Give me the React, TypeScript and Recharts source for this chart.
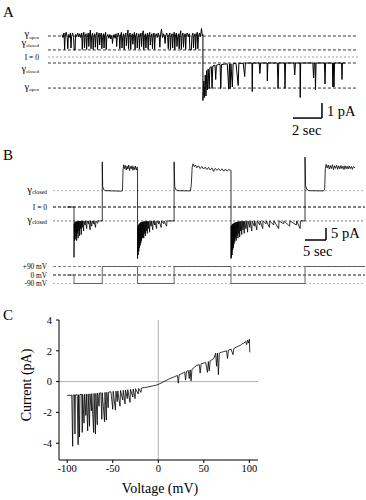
import { LineChart, Line, XAxis, YAxis, ReferenceLine } from "recharts";

const FONT = '"Liberation Serif", "Times New Roman", serif';

// ---- Panel A: single channel current (pA) vs time (s)
const levelsA = [1.4, 0.47, 0, -0.4, -2.07];
const levelNamesA = ["open", "closed", "I = 0", "closed", "open"];
const traceA: [number, number][] = [
  [0, 1.5], [0.07, 1.3], [0.14, 1.6], [0.18, 0.5], [0.22, 1.4], [0.29, 1.65], [0.36, 1.3], [0.4, 0.55],
  [0.44, 1.5], [0.51, 1.3], [0.58, 1.6], [0.62, 0.6], [0.66, 1.35], [0.73, 1.6], [0.8, 1.3], [0.84, 0.47],
  [0.9, 0.47], [0.94, 1.5], [1.01, 1.35], [1.08, 1.6], [1.15, 1.35], [1.22, 1.55], [1.29, 1.3], [1.36, 1.6],
  [1.4, 0.5], [1.44, 1.4], [1.51, 1.65], [1.55, 0.6], [1.59, 1.35], [1.66, 1.55], [1.7, 0.5], [1.74, 1.3],
  [1.81, 1.6], [1.85, 0.7], [1.89, 1.4], [1.96, 1.8], [2.0, 0.55], [2.04, 1.35], [2.11, 1.6], [2.15, 0.5],
  [2.19, 1.3], [2.26, 1.55], [2.3, 0.65], [2.34, 1.4], [2.41, 1.65], [2.45, 0.5], [2.49, 1.3], [2.56, 1.6],
  [2.6, 0.8], [2.64, 1.35], [2.71, 1.6], [2.75, 0.55], [2.79, 1.3], [2.86, 1.55], [2.9, 0.6], [2.94, 1.4],
  [3.01, 1.65], [3.05, 0.5], [3.09, 1.35], [3.16, 1.5], [3.23, 1.25], [3.3, 1.5], [3.37, 1.2], [3.44, 1.45],
  [3.48, 0.9], [3.52, 1.25], [3.59, 1.5], [3.66, 1.25], [3.73, 1.55], [3.77, 0.7], [3.81, 1.3], [3.88, 1.6],
  [3.95, 1.35], [3.99, 0.55], [4.03, 1.4], [4.1, 1.65], [4.14, 0.6], [4.18, 1.3], [4.25, 1.55], [4.29, 0.5],
  [4.33, 1.35], [4.4, 1.6], [4.44, 0.75], [4.48, 1.3], [4.55, 1.8], [4.59, 0.55], [4.63, 1.4], [4.7, 1.6],
  [4.74, 0.5], [4.78, 1.3], [4.85, 1.55], [4.89, 0.85], [4.93, 1.35], [5.0, 1.65], [5.04, 0.5], [5.08, 1.4],
  [5.15, 1.6], [5.19, 0.6], [5.23, 1.3], [5.3, 1.55], [5.34, 0.55], [5.38, 1.35], [5.45, 1.6], [5.49, 0.7],
  [5.53, 1.4], [5.6, 1.75], [5.64, 0.5], [5.68, 1.3], [5.75, 1.55], [5.79, 0.6], [5.83, 1.35], [5.9, 1.6],
  [5.94, 0.5], [5.98, 1.4], [6.05, 1.65], [6.09, 0.8], [6.13, 1.3], [6.2, 1.55], [6.24, 0.55], [6.28, 1.4],
  [6.35, 1.6], [6.39, 0.5], [6.43, 1.35], [6.5, 1.55], [6.57, 1.3], [6.64, 1.6], [6.71, 1.35], [6.75, 0.65],
  [6.79, 1.4], [6.86, 1.85], [6.93, 1.3], [7.0, 1.55], [7.07, 1.35], [7.11, 0.9], [7.15, 1.4], [7.22, 1.6],
  [7.29, 1.3], [7.33, 0.55], [7.37, 1.45], [7.44, 1.6], [7.48, 0.5], [7.52, 1.3], [7.59, 1.55], [7.63, 0.6],
  [7.67, 1.35], [7.74, 1.65], [7.78, 0.5], [7.82, 1.4], [7.89, 1.6], [7.93, 0.7], [7.97, 1.3], [8.04, 1.55],
  [8.08, 0.55], [8.12, 1.4], [8.19, 1.75], [8.23, 0.5], [8.27, 1.35], [8.34, 1.6], [8.38, 0.65], [8.42, 1.3],
  [8.49, 1.55], [8.53, 0.5], [8.57, 1.4], [8.64, 1.6], [8.71, 1.35], [8.78, 1.55], [8.82, 0.47], [8.92, 0.47],
  [8.96, 1.4], [9.03, 1.6], [9.07, 0.6], [9.11, 1.35], [9.18, 1.55], [9.22, 0.5], [9.26, 1.4], [9.33, 1.65],
  [9.37, 0.55], [9.41, 1.3], [9.48, 1.6], [9.55, 1.35], [9.62, 1.9], [9.68, 1.4], [9.72, 1.5],
  [9.72, -2.9], [9.78, -1.6], [9.83, -2.7], [9.88, -1.2], [9.93, -2.6], [9.98, -0.9], [10.03, -2.2],
  [10.08, -0.8], [10.15, -2.1], [10.2, -0.7], [10.3, -0.65], [10.35, -2.1], [10.4, -0.6], [10.55, -0.55],
  [10.6, -1.5], [10.65, -0.55], [10.8, -0.5], [10.9, -0.5], [10.95, -2.1], [11.0, -0.5], [11.2, -0.48],
  [11.4, -0.45], [11.5, -2.15], [11.55, -0.45], [11.6, -2.1], [11.65, -0.45], [11.75, -2.0], [11.8, -0.45],
  [12.0, -0.42], [12.15, -1.9], [12.2, -0.42], [12.5, -0.42], [12.6, -1.3], [12.65, -0.4], [13.1, -0.4],
  [13.12, -2.3], [13.15, -0.4], [13.6, -0.4], [13.65, -1.1], [13.7, -0.4], [14.14, -0.4], [14.16, -1.6],
  [14.2, -0.4], [14.85, -0.4], [14.9, -2.1], [14.95, -0.4], [15.35, -0.4], [15.38, -2.1], [15.42, -0.4],
  [16.0, -0.4], [16.05, -1.2], [16.1, -0.4], [16.41, -0.4], [16.43, -2.7], [16.46, -0.4], [17.3, -0.4],
  [17.35, -1.4], [17.4, -0.4], [17.45, -0.4], [17.48, -2.2], [17.52, -0.4], [18.1, -0.4], [18.14, -1.8],
  [18.18, -0.4], [18.65, -0.4], [18.68, -2.0], [18.71, -0.4], [18.76, -2.0], [18.8, -0.4], [19.28, -0.4],
  [19.31, -1.5], [19.34, -0.4], [19.52, -0.4],
];
const scaleBarA = { t: [15.93, 17.93], i: [-3.07, -4.07] };

// ---- Panel B: current (pA) and voltage steps (mV) vs time (s)
const levelsB = [6.8, 0, -5.8];
const levelNamesB = ["closed", "I = 0", "closed"];
const voltLevelsB = [90, 0, -90];
const voltNamesB = ["+90 mV", "0 mV", "-90 mV"];
const traceB: [number, number][] = [
  [0, 0], [1.67, 0],
  [1.67, -21], [1.72, -7], [1.8, -14], [1.88, -6.3], [1.96, -13.5], [2.04, -6.2], [2.12, -12], [2.2, -6],
  [2.3, -14], [2.38, -6], [2.47, -11], [2.55, -6], [2.65, -13], [2.73, -5.9], [2.83, -10], [2.9, -5.9],
  [3.0, -12], [3.08, -5.9], [3.2, -9], [3.28, -5.9], [3.4, -11.5], [3.48, -5.8], [3.65, -8.5], [3.73, -5.8],
  [3.95, -10], [4.03, -5.8], [4.3, -7.5], [4.38, -5.8], [4.7, -9], [4.78, -5.8], [5.1, -7], [5.18, -5.8],
  [5.5, -9.5], [5.58, -5.8], [5.9, -8], [5.98, -5.8], [6.3, -7], [6.38, -5.8], [6.8, -8.5], [6.88, -5.8],
  [7.3, -6.8], [7.38, -5.8], [8.4, -5.8],
  [8.4, 18.8], [8.5, 8.5], [8.75, 7.2], [9.2, 6.8], [12.9, 6.6], [13.2, 6.8], [13.35, 15.5], [13.5, 17.6],
  [13.7, 16], [13.9, 17.3], [14.1, 15.4], [14.3, 17], [14.5, 15.8], [14.7, 17.5], [14.9, 15.2], [15.1, 16.9],
  [15.3, 15.9], [15.5, 17.2], [15.7, 15.3], [15.9, 16.8], [16.1, 15.6], [16.3, 17.1], [16.5, 15.4],
  [16.7, 16.6], [16.8, 16],
  [16.8, -21.5], [16.86, -8], [16.94, -20], [17.02, -7.5], [17.1, -18.5], [17.18, -7], [17.26, -17],
  [17.34, -6.8], [17.42, -16], [17.5, -6.5], [17.58, -15], [17.66, -6.4], [17.75, -14], [17.83, -6.3],
  [17.92, -13], [18.0, -6.2], [18.1, -12.5], [18.18, -6.1], [18.28, -13], [18.36, -6], [18.47, -11],
  [18.55, -6], [18.67, -12], [18.75, -6], [18.87, -10], [18.95, -5.9], [19.12, -11], [19.2, -5.9],
  [19.37, -9], [19.45, -5.9], [19.67, -10.5], [19.75, -5.9], [20.02, -8], [20.1, -5.8], [20.42, -9.5],
  [20.5, -5.8], [20.82, -7.5], [20.9, -5.8], [21.32, -9], [21.4, -5.8], [21.82, -7], [21.9, -5.8],
  [22.42, -8.5], [22.5, -5.8], [23.02, -7], [23.1, -5.8], [23.72, -8], [23.8, -5.8], [25.5, -5.8],
  [25.5, 18.8], [25.65, 8.5], [25.9, 7.2], [26.4, 6.8], [29.4, 6.7], [29.6, 9.5], [29.8, 16.5], [30.0, 18],
  [30.3, 16.8], [30.6, 17.5], [30.9, 16.3], [31.3, 17.2], [31.7, 16], [32.1, 16.9], [32.5, 15.8],
  [32.9, 16.6], [33.3, 15.6], [33.7, 16.5], [34.1, 15.4], [34.5, 16.3], [34.9, 14.8], [35.3, 16.1],
  [35.7, 15.3], [36.1, 16], [36.5, 15.1], [36.9, 15.9], [37.3, 14.9], [37.7, 15.8], [38.1, 15],
  [38.5, 15.6], [39.05, 15.2],
  [39.05, -21.5], [39.1, -8], [39.17, -21], [39.24, -7.5], [39.31, -20], [39.38, -7.2], [39.46, -18],
  [39.54, -7], [39.62, -17], [39.7, -6.8], [39.78, -15.5], [39.86, -6.6], [39.95, -14.5], [40.03, -6.5],
  [40.12, -13], [40.2, -6.4], [40.3, -14], [40.38, -6.3], [40.5, -12], [40.58, -6.2], [40.7, -13],
  [40.78, -6.1], [40.9, -11], [40.98, -6], [41.12, -12.5], [41.2, -6], [41.35, -10], [41.43, -6],
  [41.6, -11.5], [41.68, -5.9], [41.9, -9.5], [41.98, -5.9], [42.2, -11], [42.28, -5.9], [42.6, -9],
  [42.68, -5.9], [43.0, -10.5], [43.08, -5.8], [43.5, -8.5], [43.58, -5.8], [44.0, -10], [44.08, -5.8],
  [44.6, -8], [44.68, -5.8], [45.2, -9.5], [45.28, -5.8], [45.9, -7.5], [45.98, -5.8], [46.6, -9],
  [46.68, -5.8], [47.4, -7], [47.48, -5.8], [48.2, -8.5], [48.28, -5.8], [49.2, -7.5], [49.28, -5.8],
  [50.4, -9], [50.48, -5.8], [51.6, -7], [51.68, -5.8], [53.0, -8], [53.08, -5.8], [54.6, -7.5],
  [54.68, -5.8], [55.5, -9], [55.58, -5.8], [56.67, -5.8],
  [56.67, 20.8], [56.8, 9], [57.1, 7.3], [57.6, 6.8], [61.1, 6.7], [61.35, 7.5], [61.5, 16], [61.7, 17.8],
  [61.95, 16.2], [62.2, 17.5], [62.45, 15.8], [62.7, 17.3], [62.95, 16], [63.2, 17.6], [63.45, 15.6],
  [63.7, 17.2], [63.95, 16.1], [64.2, 17.4], [64.45, 15.7], [64.7, 17.1], [64.95, 15.9], [65.2, 17.3],
  [65.45, 16], [65.7, 17], [65.95, 15.6], [66.2, 17.2], [66.45, 15.9], [66.7, 17], [66.95, 15.8],
  [67.2, 17.1], [67.45, 16], [67.7, 16.9], [67.95, 15.7], [68.2, 16.8], [68.57, 16.3],
];
const voltageB: [number, number][] = [
  [0, 0], [1.67, 0], [1.67, -90], [8.4, -90], [8.4, 90], [16.8, 90], [16.8, -90], [25.5, -90],
  [25.5, 90], [39.05, 90], [39.05, -90], [56.67, -90], [56.67, 90], [70.9, 90],
];
const scaleBarB = { t: [56.67, 61.67], i: [-8.75, -13.75] };

// ---- Panel C: I-V relation from a voltage ramp
const voltTicks = [-100, -50, 0, 50, 100];
const currentTicks = [-4, -2, 0, 2, 4];
const ivTrace: [number, number][] = [
  [-100, -0.9], [-98, -0.88], [-96, -0.9], [-95, -0.87], [-94, -4.2], [-93.5, -0.88], [-92, -0.86],
  [-91.5, -3.4], [-91, -0.87], [-89, -0.85], [-88, -4.1], [-87.5, -0.85], [-86.5, -3.6], [-86, -0.84],
  [-84, -0.83], [-83.5, -3.3], [-83, -0.83], [-81.5, -2.7], [-81, -0.82], [-79.5, -2.2], [-79, -0.8],
  [-77.5, -3.2], [-77, -0.8], [-75.5, -2.9], [-75, -0.79], [-73.5, -1.9], [-73, -0.78], [-71, -3.3],
  [-70.5, -0.77], [-69, -3.4], [-68.5, -0.76], [-67, -2.8], [-66.5, -0.75], [-65, -1.6], [-64.5, -0.74],
  [-63, -0.73], [-62, -2.45], [-61.5, -0.72], [-59, -2.6], [-58.5, -0.7], [-57, -2.5], [-56.5, -0.69],
  [-55, -1.7], [-54.5, -0.68], [-52, -0.66], [-50, -1.8], [-49.5, -0.63], [-47, -1.85], [-46.5, -0.62],
  [-45, -1.3], [-44.5, -0.6], [-42, -1.6], [-41.5, -0.58], [-39, -1.2], [-38.5, -0.56], [-36.5, -1.45],
  [-36, -0.54], [-34, -1.1], [-33.5, -0.52], [-31, -1.35], [-30.5, -0.5], [-28, -1.0], [-27.5, -0.48],
  [-25.5, -1.1], [-25, -0.46], [-22, -0.8], [-21.5, -0.44], [-19, -0.7], [-18.5, -0.42], [-15, -0.38],
  [-12, -0.36], [-9, -0.32], [-6, -0.28], [-3, -0.24], [0, -0.18], [3, -0.1], [6, 0.0], [9, 0.08],
  [12, 0.18], [15, 0.25], [18, 0.32], [21, 0.4], [22, -0.1], [23, 0.45], [26, 0.52], [29, 0.62],
  [30, 0.1], [31, 0.66], [33, 0.72], [34, 0.2], [35, 0.76], [36, 0.05], [37, 0.8], [40, 0.95],
  [42, 1.05], [45, 1.1], [46, 0.55], [47, 1.15], [50, 1.2], [52, 1.25], [54, 0.6], [55, 1.3],
  [56, 0.7], [57, 1.35], [61, 1.5], [63, 1.85], [64, 1.0], [65, 1.85], [66, 0.45], [67, 1.85],
  [69, 1.9], [72, 1.95], [75, 2.0], [76, 1.5], [77, 2.05], [80, 2.1], [82, 1.75], [83, 2.15],
  [86, 2.25], [88, 2.3], [90, 2.35], [92, 2.45], [94, 2.5], [96, 2.6], [97, 2.4], [98, 2.7],
  [99, 2.5], [100, 2.75], [100.5, 1.9],
];

const toPts = (arr: [number, number][]) => arr.map(([x, y]) => ({ x, y }));

function GammaLabel({ viewBox, sub, dx, dy, big, small }: any) {
  if (!viewBox) return null;
  const isGamma = sub === "open" || sub === "closed";
  return (
    <text x={viewBox.x - dx} y={viewBox.y + dy} textAnchor="end" fontFamily={FONT} fill="#000">
      {isGamma ? (
        <>
          <tspan fontSize={big}>γ</tspan>
          <tspan fontSize={small} dy={1.5}>{sub}</tspan>
        </>
      ) : (
        <tspan fontSize={7.5}>{sub}</tspan>
      )}
    </text>
  );
}

function PlainLabel({ viewBox, text, dx, dy, size }: any) {
  if (!viewBox) return null;
  return (
    <text x={viewBox.x - dx} y={viewBox.y + dy} textAnchor="end" fontFamily={FONT} fontSize={size} fill="#000">
      {text}
    </text>
  );
}

function BarLabel({ viewBox, text, dx, dy }: any) {
  if (!viewBox) return null;
  return (
    <text x={viewBox.x + dx} y={viewBox.y + dy} fontFamily={FONT} fontSize={14.5} fill="#000">
      {text}
    </text>
  );
}

const dashA = [
  { stroke: "#000", dash: "3 2" },
  { stroke: "#000", dash: "3 2" },
  { stroke: "#888", dash: "2 2" },
  { stroke: "#000", dash: "3 2" },
  { stroke: "#000", dash: "3 2" },
];
const labelDyA = [1, -4, 2.5, 8.5, 1.5];

function PanelA() {
  const [x0, x1] = [-0.97, 20.41];
  return (
    <LineChart width={366} height={140} margin={{ top: 0, right: 0, bottom: 0, left: 0 }}>
      <XAxis type="number" dataKey="x" domain={[-4.276, 20.966]} hide allowDataOverflow />
      <YAxis type="number" domain={[-5.533, 3.8]} hide allowDataOverflow />
      {levelsA.map((lv, k) => (
        <ReferenceLine
          key={k}
          segment={[{ x: x0, y: lv }, { x: x1, y: lv }]}
          stroke={dashA[k].stroke}
          strokeWidth={0.8}
          strokeDasharray={dashA[k].dash}
          label={(p: any) => (
            <GammaLabel viewBox={p.viewBox} sub={levelNamesA[k]} dx={9} dy={labelDyA[k]} big={10.5} small={5} />
          )}
        />
      ))}
      <ReferenceLine
        segment={[{ x: scaleBarA.t[1], y: scaleBarA.i[0] }, { x: scaleBarA.t[1], y: scaleBarA.i[1] }]}
        stroke="#000"
        strokeWidth={1.5}
        label={(p: any) => <BarLabel viewBox={p.viewBox} text="1 pA" dx={5} dy={13} />}
      />
      <ReferenceLine
        segment={[{ x: scaleBarA.t[0], y: scaleBarA.i[1] }, { x: scaleBarA.t[1], y: scaleBarA.i[1] }]}
        stroke="#000"
        strokeWidth={1.5}
        label={(p: any) => <BarLabel viewBox={p.viewBox} text="2 sec" dx={-1} dy={17} />}
      />
      <Line
        data={toPts(traceA)}
        dataKey="y"
        type="linear"
        stroke="#000"
        strokeWidth={1}
        dot={false}
        activeDot={false}
        isAnimationActive={false}
      />
    </LineChart>
  );
}

const dashB = [
  { stroke: "#999", dash: "2 2", w: 0.8 },
  { stroke: "#000", dash: "3 2", w: 1 },
  { stroke: "#555", dash: "2 2", w: 0.8 },
];
const labelDyB = [2, 2.5, 2];
const voltDashB = [
  { stroke: "#444", dash: "3 2", w: 0.7 },
  { stroke: "#000", dash: "3 2", w: 0.9 },
  { stroke: "#999", dash: "2 2", w: 0.7 },
];
const voltDyB = [2.5, 2.5, 2.5];

function PanelB() {
  const [x0, x1] = [-3.33, 70.95];
  return (
    <LineChart width={366} height={160} margin={{ top: 0, right: 0, bottom: 0, left: 0 }}>
      <XAxis type="number" dataKey="x" domain={[-15.952, 71.19]} hide allowDataOverflow />
      <YAxis yAxisId="i" type="number" domain={[-38.75, 27.917]} hide allowDataOverflow />
      <YAxis yAxisId="v" type="number" domain={[-264.7, 1429.4]} hide allowDataOverflow />
      {levelsB.map((lv, k) => (
        <ReferenceLine
          key={"i" + k}
          yAxisId="i"
          segment={[{ x: x0, y: lv }, { x: x1, y: lv }]}
          stroke={dashB[k].stroke}
          strokeWidth={dashB[k].w}
          strokeDasharray={dashB[k].dash}
          label={(p: any) => (
            <GammaLabel viewBox={p.viewBox} sub={levelNamesB[k]} dx={6} dy={labelDyB[k]} big={11} small={5.8} />
          )}
        />
      ))}
      {voltLevelsB.map((lv, k) => (
        <ReferenceLine
          key={"v" + k}
          yAxisId="v"
          segment={[{ x: x0, y: lv }, { x: x1, y: lv }]}
          stroke={voltDashB[k].stroke}
          strokeWidth={voltDashB[k].w}
          strokeDasharray={voltDashB[k].dash}
          label={(p: any) => (
            <PlainLabel viewBox={p.viewBox} text={voltNamesB[k]} dx={6} dy={voltDyB[k]} size={7.3} />
          )}
        />
      ))}
      <ReferenceLine
        yAxisId="i"
        segment={[{ x: scaleBarB.t[1], y: scaleBarB.i[0] }, { x: scaleBarB.t[1], y: scaleBarB.i[1] }]}
        stroke="#000"
        strokeWidth={1.5}
        label={(p: any) => <BarLabel viewBox={p.viewBox} text="5 pA" dx={5} dy={10} />}
      />
      <ReferenceLine
        yAxisId="i"
        segment={[{ x: scaleBarB.t[0], y: scaleBarB.i[1] }, { x: scaleBarB.t[1], y: scaleBarB.i[1] }]}
        stroke="#000"
        strokeWidth={1.5}
        label={(p: any) => <BarLabel viewBox={p.viewBox} text="5 sec" dx={-2} dy={16} />}
      />
      <Line
        yAxisId="v"
        data={toPts(voltageB)}
        dataKey="y"
        type="linear"
        stroke="#555"
        strokeWidth={0.9}
        dot={false}
        activeDot={false}
        isAnimationActive={false}
      />
      <Line
        yAxisId="i"
        data={toPts(traceB)}
        dataKey="y"
        type="linear"
        stroke="#000"
        strokeWidth={0.8}
        dot={false}
        activeDot={false}
        isAnimationActive={false}
      />
    </LineChart>
  );
}

function PanelC() {
  const tick = { fontSize: 10.5, fill: "#000", fontFamily: FONT };
  return (
    <LineChart width={366} height={200} margin={{ top: 20, right: 108, bottom: 0, left: 0 }}>
      <XAxis
        type="number"
        dataKey="x"
        domain={[-109, 109.5]}
        ticks={voltTicks}
        interval={0}
        allowDataOverflow
        height={40}
        tick={tick}
        tickSize={3}
        tickMargin={2}
        axisLine={{ stroke: "#000" }}
        tickLine={{ stroke: "#000" }}
      />
      <YAxis
        type="number"
        domain={[-5.09, 4]}
        ticks={currentTicks}
        interval={0}
        allowDataOverflow
        width={59}
        tick={tick}
        tickSize={3}
        tickMargin={4}
        axisLine={{ stroke: "#000" }}
        tickLine={{ stroke: "#000" }}
      />
      <ReferenceLine y={0} stroke="#999" strokeWidth={0.8} />
      <ReferenceLine x={0} stroke="#999" strokeWidth={0.8} />
      <Line
        data={toPts(ivTrace)}
        dataKey="y"
        type="linear"
        stroke="#000"
        strokeWidth={0.8}
        dot={false}
        activeDot={false}
        isAnimationActive={false}
      />
    </LineChart>
  );
}

export default function App() {
  return (
    <div style={{ position: "absolute", left: 0, top: 0, width: 366, height: 500, background: "#fff", fontFamily: FONT }}>
      <div style={{ position: "absolute", left: 0, top: 0 }}>
        <PanelA />
      </div>
      <div style={{ position: "absolute", left: 0, top: 140 }}>
        <PanelB />
      </div>
      <div style={{ position: "absolute", left: 0, top: 300 }}>
        <PanelC />
      </div>
      <svg width={366} height={500} style={{ position: "absolute", left: 0, top: 0, pointerEvents: "none" }}>
        <g fontFamily={FONT} fill="#000">
          <text x={3} y={17} fontSize={15}>A</text>
          <text x={3} y={160} fontSize={15}>B</text>
          <text x={3} y={320} fontSize={15}>C</text>
          <text x={31} y={385} fontSize={14} textAnchor="middle" transform="rotate(-90 31 385)">Current (pA)</text>
          <text x={160} y={493} fontSize={14} textAnchor="middle">Voltage (mV)</text>
        </g>
      </svg>
    </div>
  );
}
